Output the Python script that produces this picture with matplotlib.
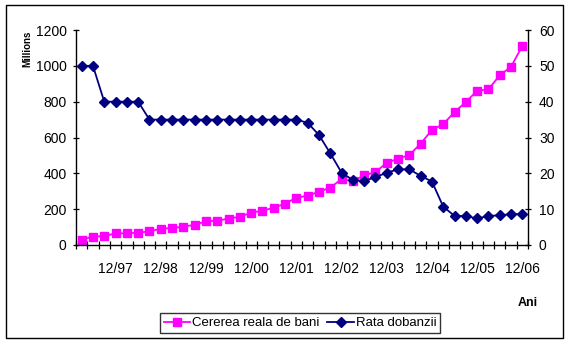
import numpy as np
import matplotlib
matplotlib.use("Agg")
import matplotlib.pyplot as plt
from matplotlib.patches import Rectangle
from matplotlib.lines import Line2D

plt.rcParams['font.family'] = ['Liberation Sans', 'DejaVu Sans']

# Quarterly data, Q1 1997 .. Q4 2006
demand = [30, 47, 50, 65, 65, 69, 76, 91, 95, 102,
          113, 132, 136, 147, 158, 180, 192, 207, 231, 264,
          275, 297, 320, 368, 357, 389, 407, 459, 482, 502,
          566, 642, 675, 742, 798, 861, 869, 947, 995, 1111]
rate = [50, 50, 40, 40, 40, 40, 35, 35, 35, 35,
        35, 35, 35, 35, 35, 35, 35, 35, 35, 35,
        34.1, 30.7, 25.6, 20.2, 18.1, 17.9, 18.9, 20.2, 21.1, 21.1,
        19.3, 17.7, 10.7, 8.1, 8.1, 7.4, 8.1, 8.3, 8.6, 8.6]
tick_labels = ['12/97', '12/98', '12/99', '12/00', '12/01',
               '12/02', '12/03', '12/04', '12/05', '12/06']
tick_idx = [3, 7, 11, 15, 19, 23, 27, 31, 35, 39]
left_ticks = [0, 200, 400, 600, 800, 1000, 1200]
right_ticks = [0, 10, 20, 30, 40, 50, 60]
series_names = ['Cererea reala de bani', 'Rata dobanzii']

W, H = 570, 343
fig = plt.figure(figsize=(W / 100, H / 100), dpi=100)
fig.patch.set_facecolor('white')

# outer frame
fig.patches.append(Rectangle((5.5 / W, 1 - 338 / H), (563 - 5.5) / W, (338 - 5) / H,
                             transform=fig.transFigure, fill=False,
                             edgecolor='black', linewidth=1.0))

left, right, top, bottom = 76, 528, 30, 245
ax = fig.add_axes([left / W, 1 - bottom / H, (right - left) / W, (bottom - top) / H])
ax2 = ax.twinx()

x = np.arange(len(demand))
ax.plot(x, demand, color='#FF00FF', marker='s', markersize=5.4, linewidth=1.3,
        markeredgecolor='#FF00FF', markerfacecolor='#FF00FF', clip_on=False)
ax2.plot(x, rate, color='#000080', marker='D', markersize=5.6, linewidth=1.3,
         markeredgecolor='#000080', markerfacecolor='#000080', clip_on=False)

ax.set_xlim(-0.5, len(demand) - 0.5)
ax.set_ylim(0, 1200)
ax2.set_ylim(0, 60)

ax.set_xticks(tick_idx)
ax.set_xticklabels(tick_labels)
ax.set_xticks(np.arange(-0.5, len(demand), 1.0), minor=True)
ax.tick_params(axis='x', which='major', length=0, pad=12, labelsize=10)
ax.tick_params(axis='x', which='minor', direction='inout', length=5.5, width=0.9)

ax.set_yticks(left_ticks)
ax.tick_params(axis='y', direction='inout', length=4.8, width=0.9, pad=4.3, labelsize=10)
ax2.set_yticks(right_ticks)
ax2.tick_params(axis='y', direction='inout', length=4.8, width=0.9, pad=5.5, labelsize=10)

for a in (ax, ax2):
    a.spines['top'].set_visible(False)
    for s in a.spines.values():
        s.set_linewidth(1.0)
ax2.spines['bottom'].set_visible(False)
ax.spines['right'].set_visible(False)
ax2.spines['left'].set_visible(False)
ax.patch.set_visible(False)

fig.text(27 / W, 1 - 49 / H, 'Millions', rotation=90, ha='center', va='center',
         fontsize=7, fontweight='bold')
fig.text(528 / W, 1 - 303 / H, 'Ani', ha='center', va='center',
         fontsize=9, fontweight='bold')

handles = [Line2D([], [], color='#FF00FF', marker='s', markersize=5.2, linewidth=1.3),
           Line2D([], [], color='#000080', marker='D', markersize=4.8, linewidth=1.3)]
leg = fig.legend(handles, series_names,
                 loc='center', bbox_to_anchor=(300 / W, 1 - 323 / H), ncol=2,
                 fontsize=9.5, frameon=True, fancybox=False, shadow=False,
                 handlelength=2.0, handletextpad=0.15, columnspacing=0.6,
                 borderpad=0.3, borderaxespad=0)
leg.get_frame().set_edgecolor('black')
leg.get_frame().set_linewidth(1.0)

fig.savefig('out.png', dpi=100)
